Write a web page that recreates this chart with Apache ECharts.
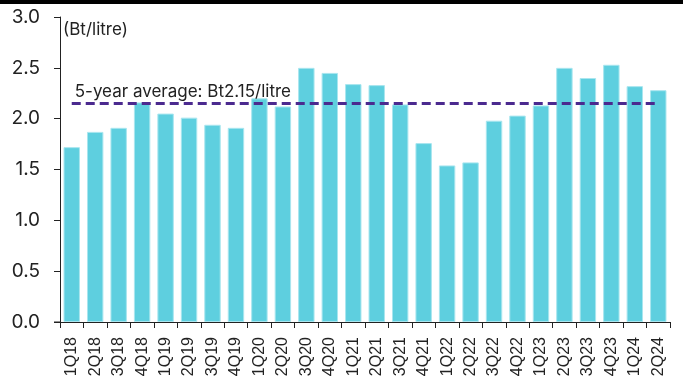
<!DOCTYPE html>
<html>
<head>
<meta charset="utf-8">
<script src="https://cdn.jsdelivr.net/npm/echarts@6/dist/echarts.min.js"></script>
<style>
  html, body { margin: 0; padding: 0; background: #fff; }
  #chart { width: 683px; height: 387px; }
</style>
</head>
<body>
<div id="chart"></div>
<script>
// Quarterly marketing margin, Bt per litre
const quarters = ['1Q18','2Q18','3Q18','4Q18','1Q19','2Q19','3Q19','4Q19','1Q20','2Q20','3Q20','4Q20',
  '1Q21','2Q21','3Q21','4Q21','1Q22','2Q22','3Q22','4Q22','1Q23','2Q23','3Q23','4Q23','1Q24','2Q24'];
const margin = [1.72, 1.87, 1.91, 2.16, 2.05, 2.01, 1.94, 1.91, 2.20, 2.12, 2.50, 2.45,
  2.34, 2.33, 2.14, 1.76, 1.54, 1.57, 1.98, 2.03, 2.13, 2.50, 2.40, 2.53, 2.32, 2.28];
const fiveYearAverage = 2.15;
const averageLabel = '5-year average: Bt2.15/litre';
const unitLabel = '(Bt/litre)';

const chart = echarts.init(document.getElementById('chart'));
chart.setOption({
  animation: false,
  grid: { left: 60, right: 13, top: 17, bottom: 65 },
  graphic: [
    { type: 'rect', left: 0, top: 0, shape: { width: 683, height: 4 }, style: { fill: '#000' } },
    { type: 'text', left: 63, top: 21, style: { text: unitLabel, font: '17px Inter', fill: '#222' } },
    { type: 'line', shape: { x1: 54, y1: 322, x2: 60, y2: 322 }, style: { stroke: '#222', lineWidth: 1 } }
  ],
  xAxis: {
    type: 'category',
    data: quarters,
    axisLine: { lineStyle: { color: '#222', width: 1 } },
    axisTick: { show: true, length: 6, alignWithLabel: false, lineStyle: { color: '#222' } },
    axisLabel: { rotate: 90, color: '#222', fontSize: 16, fontFamily: 'Liberation Sans', margin: 15, interval: 0 }
  },
  yAxis: {
    type: 'value',
    min: 0, max: 3, interval: 0.5,
    splitLine: { show: false },
    axisLine: { show: true, lineStyle: { color: '#222', width: 1 } },
    axisTick: { show: true, length: 6, lineStyle: { color: '#222' } },
    axisLabel: { color: '#222', fontSize: 19, fontFamily: 'Inter', margin: 20,
      formatter: v => v.toFixed(1) }
  },
  series: [{
    type: 'bar',
    data: margin,
    barCategoryGap: '30%',
    itemStyle: { color: '#5ECFDF', borderColor: '#A9E6EF', borderWidth: 1 },
    markLine: {
      symbol: 'none',
      silent: true,
      lineStyle: { color: '#4B2A8F', width: 3, type: [9, 5] },
      label: {
        show: true, position: 'insideStartTop', formatter: averageLabel,
        color: '#222', fontSize: 17, fontFamily: 'Inter', distance: [3, 3]
      },
      data: [[
        { coord: [quarters[0], fiveYearAverage] },
        { coord: [quarters[quarters.length - 1], fiveYearAverage] }
      ]]
    }
  }]
});
</script>
</body>
</html>
